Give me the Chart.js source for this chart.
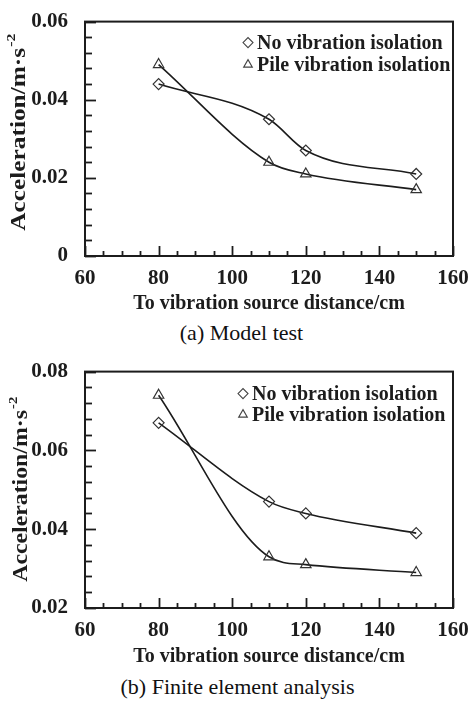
<!DOCTYPE html>
<html>
<head>
<meta charset="utf-8">
<script src="https://cdn.jsdelivr.net/npm/chart.js@4.4.0/dist/chart.umd.min.js"></script>
<style>
  html, body { margin: 0; padding: 0; background: #fff; }
  #page { position: relative; width: 475px; height: 701px; overflow: hidden; }
  .box { position: absolute; left: 0; width: 475px; }
  .caption {
    position: absolute; width: 475px; text-align: center;
    font-family: "Liberation Serif", "Times New Roman", serif;
    font-size: 22px; color: #111; line-height: 24px;
  }
</style>
</head>
<body>
<div id="page">
  <div class="box" style="top:0;height:320px"><canvas id="chart-a" width="475" height="320"></canvas></div>
  <div class="caption" style="top:321px;left:4px">(a) Model test</div>
  <div class="box" style="top:350px;height:320px"><canvas id="chart-b" width="475" height="320"></canvas></div>
  <div class="caption" style="top:675px;left:0px">(b) Finite element analysis</div>
</div>
<script>
const distances = [80, 110, 120, 150];
const seriesNames = ['No vibration isolation', 'Pile vibration isolation'];

// (a) model test
const testNoIsolation = [0.044, 0.035, 0.027, 0.021];
const testPileIsolation = [0.049, 0.024, 0.021, 0.017];

// (b) finite element analysis
const femNoIsolation = [0.067, 0.047, 0.044, 0.039];
const femPileIsolation = [0.074, 0.033, 0.031, 0.029];

const xTickLabels = [60, 80, 100, 120, 140, 160];
const yTickLabelsA = [0, 0.02, 0.04, 0.06];
const yTickLabelsB = [0.02, 0.04, 0.06, 0.08];

const SERIF = "'Liberation Serif', serif";
const INK = '#1c1c1c';

function isOnStep(v, step) {
  return Math.abs(v / step - Math.round(v / step)) < 1e-6;
}

function makeTicks(min, max, step) {
  const out = [];
  const n = Math.round((max - min) / step);
  for (let i = 0; i <= n; i++) out.push({value: +(min + i * step).toFixed(6)});
  return out;
}

// frame, inward ticks, rotated y title with superscript, and the legend
const decorations = {
  id: 'decorations',
  afterDraw(chart, args, opts) {
    const {ctx, chartArea: a, scales} = chart;
    ctx.save();
    ctx.strokeStyle = INK;
    ctx.lineWidth = 1.8;

    const xs = scales.x, ys = scales.y;
    for (let v = 60; v <= 160; v += 5) {
      const px = Math.round(xs.getPixelForValue(v)) + 0.5;
      const len = isOnStep(v, 20) ? 10 : 5;
      ctx.beginPath();
      ctx.moveTo(px, a.bottom);
      ctx.lineTo(px, a.bottom - len);
      ctx.stroke();
    }
    makeTicks(ys.min, ys.max, 0.004).forEach(t => {
      const py = Math.round(ys.getPixelForValue(t.value)) + 0.5;
      const len = isOnStep(t.value, 0.02) ? 11 : 7;
      ctx.beginPath();
      ctx.moveTo(a.left, py);
      ctx.lineTo(a.left + len, py);
      ctx.stroke();
    });

    ctx.lineWidth = 2;
    ctx.strokeRect(a.left, a.top, a.right - a.left, a.bottom - a.top);

    // y axis title
    ctx.fillStyle = INK;
    ctx.save();
    ctx.translate(opts.titleX, (a.top + a.bottom) / 2 + opts.titleShift);
    ctx.rotate(-Math.PI / 2);
    ctx.font = 'bold 21px ' + SERIF;
    const main = 'Acceleration/m\u00b7s';
    const w1 = ctx.measureText(main).width;
    ctx.font = 'bold 13px ' + SERIF;
    const w2 = ctx.measureText('-2').width;
    const sx = opts.titleLength / (w1 + w2);
    ctx.scale(sx, 1);
    ctx.textBaseline = 'middle';
    ctx.textAlign = 'left';
    ctx.font = 'bold 21px ' + SERIF;
    ctx.fillText(main, -(w1 + w2) / 2, 0);
    ctx.font = 'bold 13px ' + SERIF;
    ctx.fillText('-2', -(w1 + w2) / 2 + w1 + 1, -8);
    ctx.restore();

    // legend
    ctx.font = 'bold 20px ' + SERIF;
    ctx.textBaseline = 'middle';
    ctx.textAlign = 'left';
    chart.data.datasets.forEach((ds, i) => {
      const y = a.top + opts.legendY[i];
      ctx.lineWidth = 1.1;
      ctx.strokeStyle = '#444';
      ctx.fillStyle = 'rgba(0,0,0,0)';
      Chart.helpers.drawPoint(ctx, {
        pointStyle: ds.pointStyle, radius: 5, borderWidth: 1.1
      }, opts.legendX + 5, y);
      ctx.fillStyle = INK;
      ctx.fillText(ds.label, opts.legendX + 14, y + 1);
    });
    ctx.restore();
  }
};

function makeChart(id, noIso, pileIso, yMin, yMax, layout) {
  const ctx = document.getElementById(id).getContext('2d');
  const line = (label, data, style, radius) => ({
    label,
    data: distances.map((d, i) => ({x: d, y: data[i]})),
    borderColor: INK,
    borderWidth: 1.6,
    backgroundColor: 'rgba(0,0,0,0)',
    pointStyle: style,
    pointRadius: radius,
    pointBorderWidth: 1.2,
    pointBorderColor: '#333',
    cubicInterpolationMode: 'monotone',
    fill: false
  });

  return new Chart(ctx, {
    type: 'line',
    data: {
      datasets: [
        line(seriesNames[0], noIso, 'rectRot', 5.5),
        line(seriesNames[1], pileIso, 'triangle', 6)
      ]
    },
    options: {
      responsive: false,
      animation: false,
      layout: {padding: {top: layout.top, right: 22, left: 0, bottom: 0}},
      plugins: {
        legend: {display: false},
        tooltip: {enabled: false},
        decorations: layout
      },
      scales: {
        x: {
          type: 'linear',
          min: 60,
          max: 160,
          afterFit: s => { s.height = 320 - layout.bottom; },
          grid: {display: false},
          border: {display: false},
          ticks: {
            stepSize: 20,
            autoSkip: false,
            maxRotation: 0,
            padding: 2,
            color: INK,
            font: {family: SERIF, size: 21, weight: 'bold'},
            callback: v => xTickLabels.includes(v) ? String(v) : ''
          },
          title: {
            display: true,
            text: 'To vibration source distance/cm',
            color: INK,
            font: {family: SERIF, size: 20, weight: 'bold'},
            padding: {top: 0, bottom: layout.xTitlePad}
          }
        },
        y: {
          type: 'linear',
          min: yMin,
          max: yMax,
          afterFit: s => { s.width = 85; },
          grid: {display: false},
          border: {display: false},
          ticks: {
            stepSize: 0.02,
            autoSkip: false,
            padding: 9,
            color: INK,
            font: {family: SERIF, size: 21, weight: 'bold'},
            callback: v => {
              const hit = layout.yLabels.find(l => Math.abs(l - v) < 1e-6);
              if (hit === undefined) return '';
              return hit === 0 ? '0' : hit.toFixed(2);
            }
          }
        }
      }
    },
    plugins: [decorations]
  });
}

function drawAll() {
  makeChart('chart-a', testNoIsolation, testPileIsolation, 0, 0.06, {
    top: 12, bottom: 256, xTitlePad: 4,
    titleX: 20, titleShift: -6, titleLength: 196,
    legendX: 243, legendY: [21, 43],
    yLabels: yTickLabelsA
  });

  makeChart('chart-b', femNoIsolation, femPileIsolation, 0.02, 0.08, {
    top: 15, bottom: 258, xTitlePad: 1,
    titleX: 22, titleShift: 0, titleLength: 184,
    legendX: 238, legendY: [22, 43],
    yLabels: yTickLabelsB
  });
}

// make sure the serif faces are ready before the canvases paint text
Promise.all([
  document.fonts.load("bold 21px 'Liberation Serif'"),
  document.fonts.load("21px 'Liberation Serif'")
]).then(drawAll, drawAll);
</script>
</body>
</html>
